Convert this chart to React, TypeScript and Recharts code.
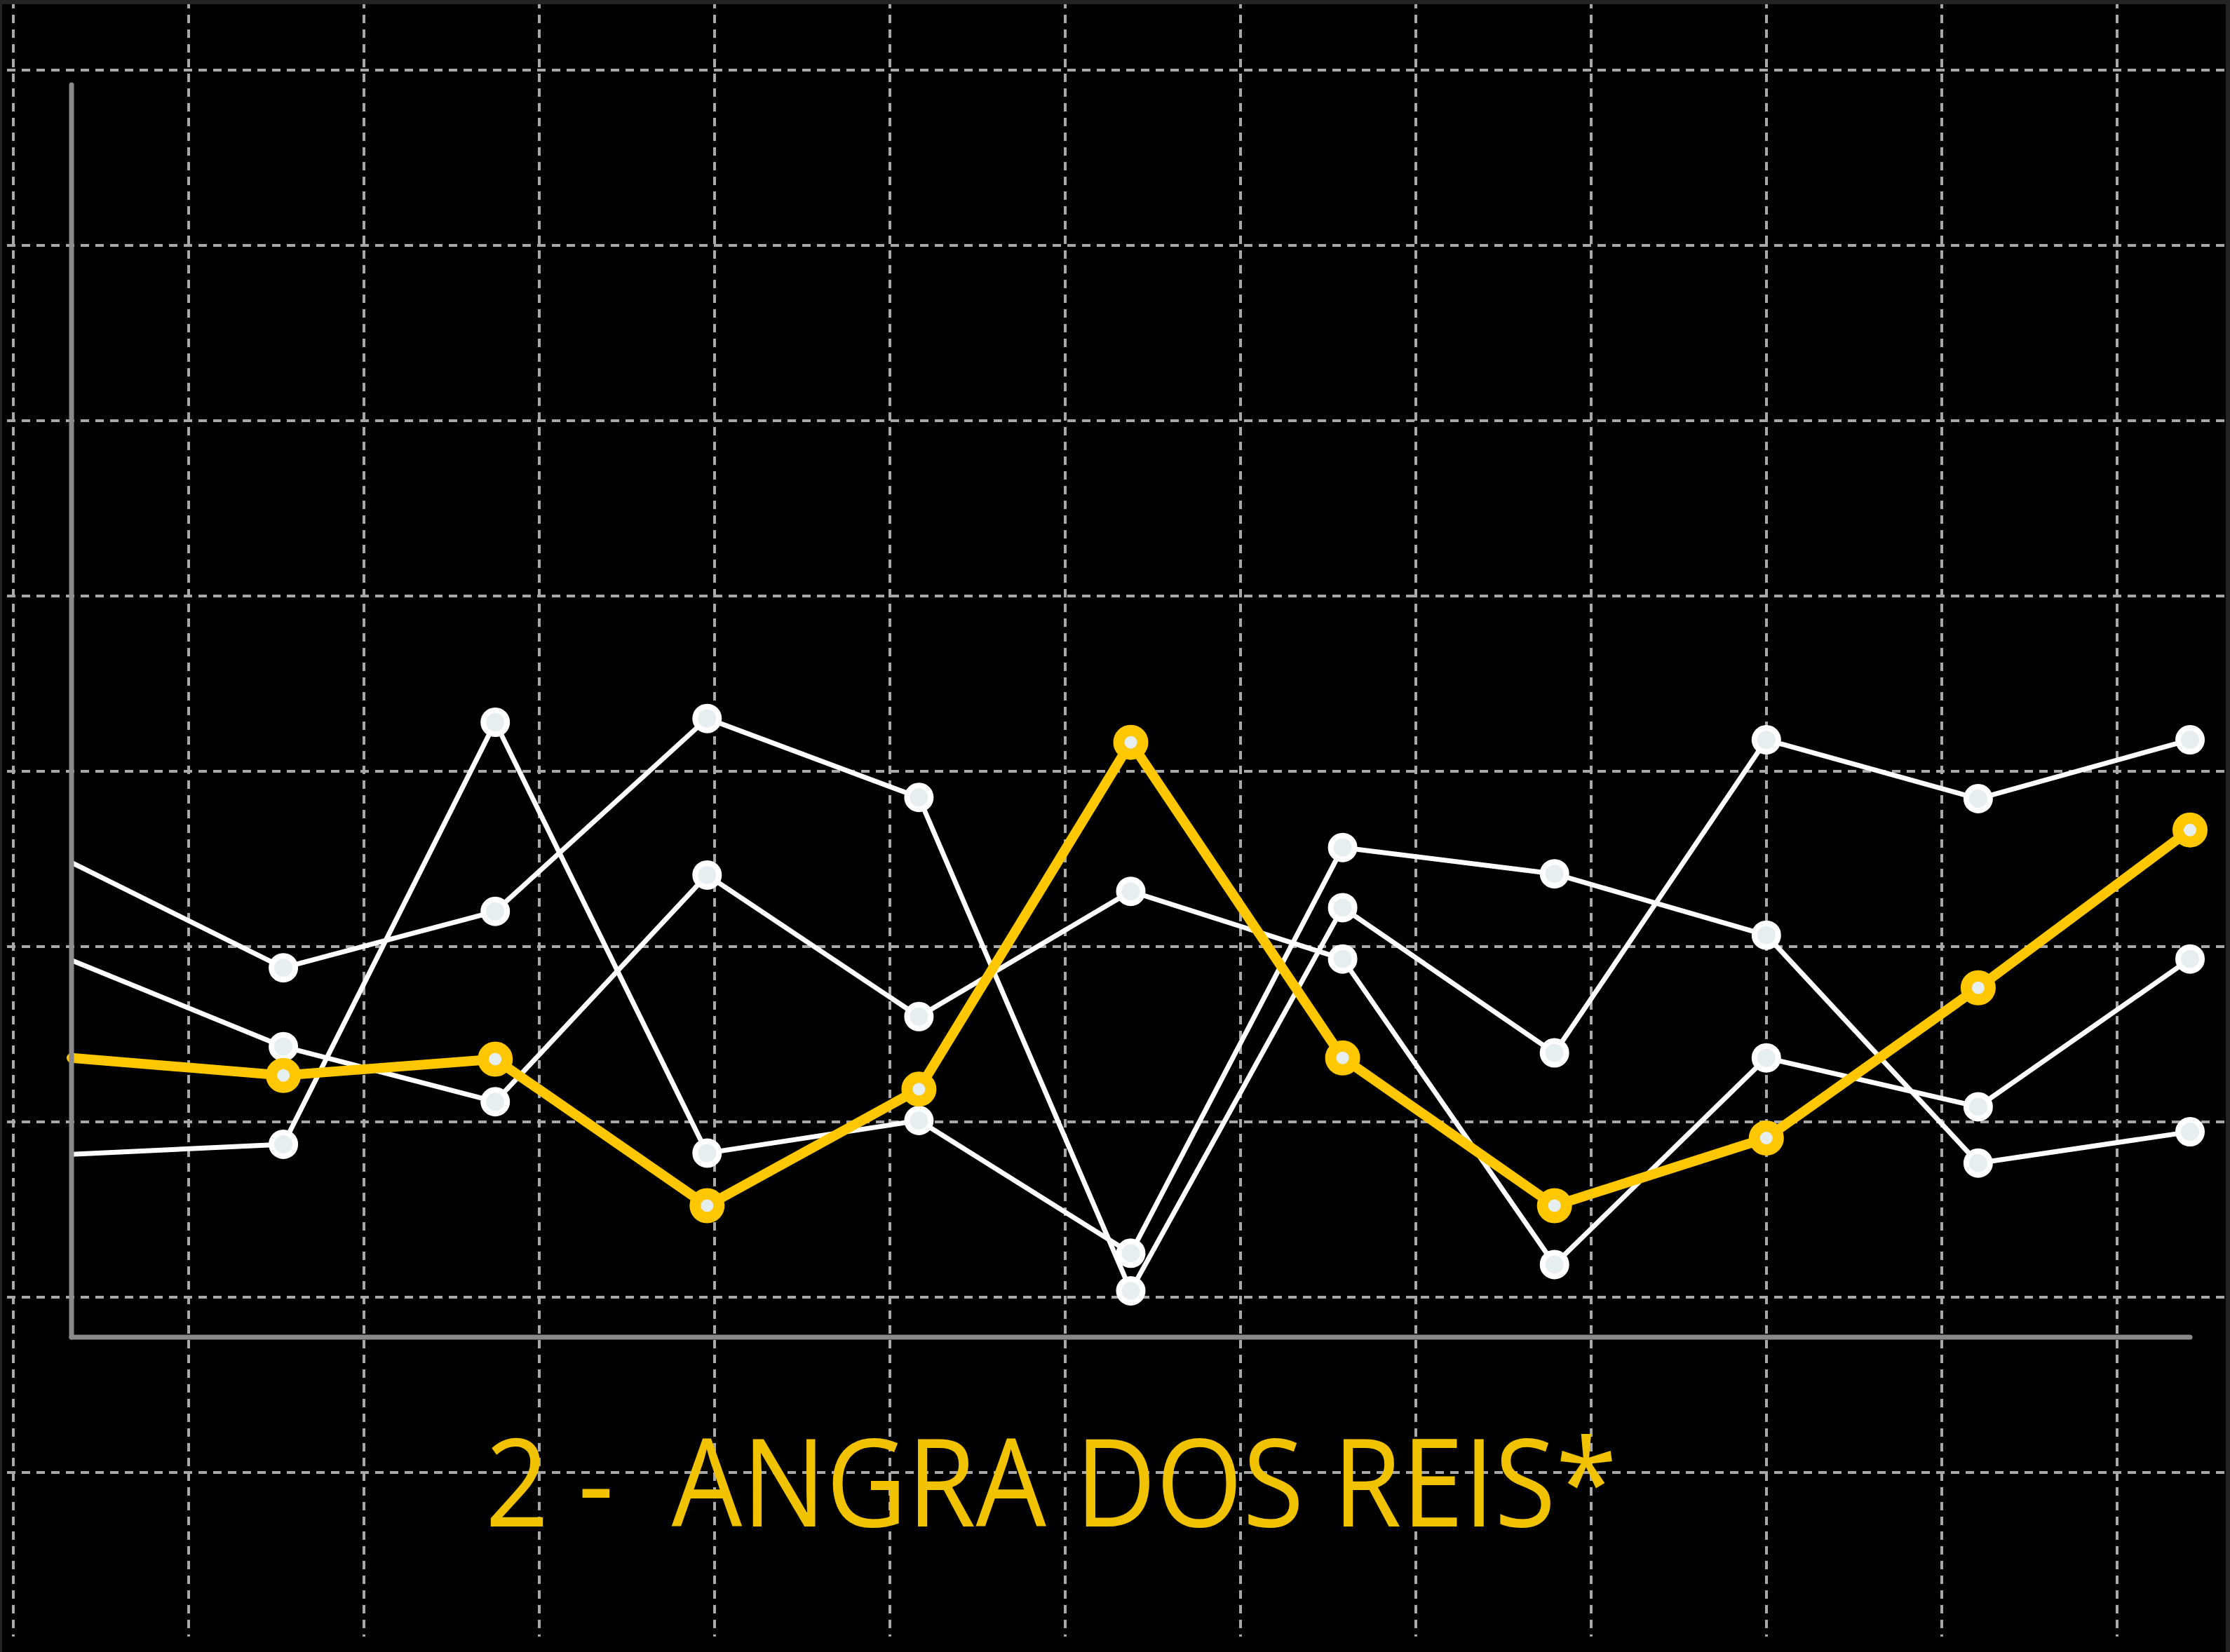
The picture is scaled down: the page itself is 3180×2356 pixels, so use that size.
import { LineChart, Line, XAxis, YAxis, CartesianGrid } from "recharts";

// 11 periods, no labels shown on the original
const periods = ["1", "2", "3", "4", "5", "6", "7", "8", "9", "10", "11"];

// three comparison cities (white) and Angra dos Reis (yellow)
const cityA = [37.9, 29.5, 34.0, 49.4, 43.1, 3.7, 34.3, 22.7, 47.7, 43.0, 47.7];
const cityB = [30.1, 23.2, 18.8, 36.9, 25.6, 35.6, 30.2, 5.8, 22.3, 18.4, 30.2];
const cityC = [14.6, 15.4, 49.1, 14.7, 17.3, 6.7, 39.1, 37.0, 32.1, 13.9, 16.4];
const angra = [22.3, 20.9, 22.2, 10.5, 19.8, 47.5, 22.3, 10.5, 15.9, 27.9, 40.5];

const data = periods.map((p, i) => ({
  period: p,
  a: cityA[i],
  b: cityB[i],
  c: cityC[i],
  angra: angra[i],
}));

const W = 3180;
const H = 2356;
const YELLOW = "#ffc700";
const WHITE = "#ffffff";
const DOT_FILL = "#e6eef0";

// background grid (decorative, not tied to the data)
const gridX = Array.from({ length: 13 }, (_, i) => 19 + i * 250);
const gridY = Array.from({ length: 9 }, (_, i) => 100 + i * 250);

const makeDot = (stroke: string, r: number, sw: number) => (props: any) => {
  const { cx, cy, index } = props;
  if (index === 0 || cx == null || cy == null) return <g key={`dot-${index}`} />;
  return (
    <circle
      key={`dot-${index}`}
      cx={cx}
      cy={cy}
      r={r}
      fill={DOT_FILL}
      stroke={stroke}
      strokeWidth={sw}
    />
  );
};

const axisLine = { stroke: "#8a8a8a", strokeWidth: 7, strokeLinecap: "round" as const };

export default function App() {
  return (
    <div style={{ position: "absolute", left: 0, top: 0, width: W, height: H, background: "#000" }}>
      <LineChart
        width={W}
        height={H}
        data={data}
        margin={{ top: 121, right: 57, bottom: 448, left: 101 }}
      >
        <CartesianGrid
          x={10}
          y={0}
          width={3164}
          height={2334}
          horizontalPoints={gridY}
          verticalPoints={gridX}
          stroke="#a8a8a8"
          strokeWidth={4}
          strokeDasharray="12 9"
        />
        <XAxis
          dataKey="period"
          tick={false}
          tickLine={false}
          height={1}
          axisLine={axisLine}
        />
        <YAxis
          domain={[0, 100]}
          tick={false}
          tickLine={false}
          width={1}
          axisLine={axisLine}
        />
        <Line
          type="linear"
          dataKey="a"
          stroke={WHITE}
          strokeWidth={7}
          strokeLinejoin="round"
          dot={makeDot(WHITE, 17, 8)}
          activeDot={false}
          isAnimationActive={false}
        />
        <Line
          type="linear"
          dataKey="b"
          stroke={WHITE}
          strokeWidth={7}
          strokeLinejoin="round"
          dot={makeDot(WHITE, 17, 8)}
          activeDot={false}
          isAnimationActive={false}
        />
        <Line
          type="linear"
          dataKey="c"
          stroke={WHITE}
          strokeWidth={7}
          strokeLinejoin="round"
          dot={makeDot(WHITE, 17, 8)}
          activeDot={false}
          isAnimationActive={false}
        />
        <Line
          type="linear"
          dataKey="angra"
          stroke={YELLOW}
          strokeWidth={14}
          strokeLinejoin="round"
          strokeLinecap="round"
          dot={makeDot(YELLOW, 17, 16)}
          activeDot={false}
          isAnimationActive={false}
        />
      </LineChart>

      <svg width={W} height={H} style={{ position: "absolute", left: 0, top: 0 }}>
        <text
          x={692}
          y={2177}
          fill="#f0c200"
          fontFamily="'Open Sans', sans-serif"
          fontSize={175}
          textLength={1614}
          lengthAdjust="spacingAndGlyphs"
          style={{ whiteSpace: "pre" }}
        >
          2 -  ANGRA DOS REIS*
        </text>
      </svg>

      <div
        style={{
          position: "absolute",
          left: 0,
          top: 0,
          width: W,
          height: H,
          boxSizing: "border-box",
          borderTop: "6px solid #242424",
          borderLeft: "3px solid #242424",
          borderRight: "6px solid #242424",
          pointerEvents: "none",
        }}
      />
    </div>
  );
}
